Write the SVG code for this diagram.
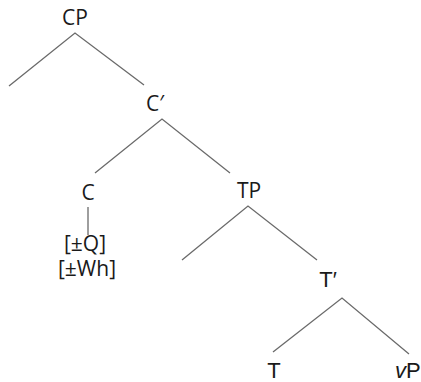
<svg xmlns="http://www.w3.org/2000/svg" width="421" height="382" viewBox="0 0 421 382">
  <style>
    .edge { stroke: #6a6a6a; stroke-width: 1.3; fill: none; }
    .lbl { font-family: "Open Sans", "Noto Sans", sans-serif; font-size: 21px; fill: #1a1a1a; text-anchor: middle; }
    .lbl2 { font-family: "Liberation Sans", Arial, sans-serif; font-size: 22px; fill: #1a1a1a; text-anchor: middle; }
  </style>
  <rect width="421" height="382" fill="#ffffff"/>
  <g id="edges">
    <path class="edge" d="M9,86 L75,33 L144,85"/>
    <path class="edge" d="M95,173 L162,119 L230,173"/>
    <path class="edge" d="M88,207 L88,235"/>
    <path class="edge" d="M182,260 L248,206 L317,260"/>
    <path class="edge" d="M273,352 L342,298 L409,354"/>
  </g>
  <g id="node-CP"><text class="lbl" x="75" y="25">CP</text></g>
  <g id="node-Cbar"><text class="lbl" x="155" y="111">C′</text></g>
  <g id="node-C"><text class="lbl" x="88" y="200">C</text></g>
  <g id="node-features">
    <text class="lbl" x="85" y="251" font-size="21">[±Q]</text>
    <text class="lbl" x="87" y="276" font-size="21">[±Wh]</text>
  </g>
  <g id="node-TP"><text class="lbl" x="249" y="198">TP</text></g>
  <g id="node-Tbar"><text class="lbl2" x="328" y="287">T′</text></g>
  <g id="node-T"><text class="lbl2" x="274" y="378">T</text></g>
  <g id="node-vP"><text class="lbl2" x="395" y="378" style="text-anchor:start"><tspan font-style="italic">v</tspan>P</text></g>
</svg>
